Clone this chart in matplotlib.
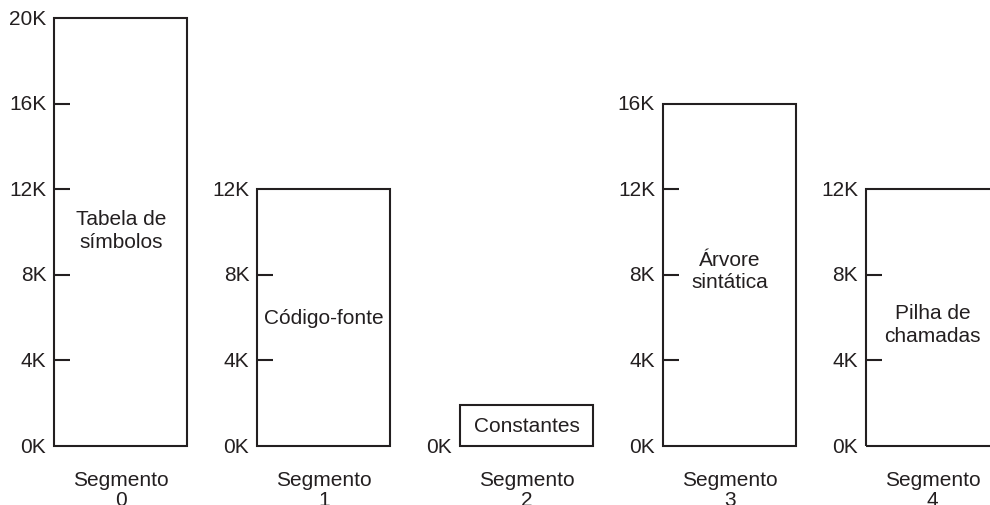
import matplotlib
matplotlib.use('Agg')
import matplotlib.pyplot as plt

# Segment sizes (in K) and the labels inside/under each box
segments = ['Segmento\n0', 'Segmento\n1', 'Segmento\n2', 'Segmento\n3', 'Segmento\n4']
sizes_k = [20, 12, 1.9, 16, 12]
contents = ['Tabela de\nsímbolos', 'Código-fonte', 'Constantes', 'Árvore\nsintática', 'Pilha de\nchamadas']
content_y = [10.1, 6.0, 0.95, 8.2, 5.7]
tick_step = 4

INK = '#231f20'
plt.rcParams['font.family'] = ['Liberation Sans', 'DejaVu Sans']


def draw_segments(ax):
    box_w = 0.655
    tick_len = 0.078
    gap = 0.04
    for i, (name, size, text, ty) in enumerate(zip(segments, sizes_k, contents, content_y)):
        ax.bar(i, size, width=box_w, bottom=0, fill=False, edgecolor=INK,
               linewidth=1.5, joinstyle='miter')
        left = i - box_w / 2
        # scale marks on the left side of each box
        v = 0
        while v <= size:
            ax.text(left - gap, v, f'{v}K', ha='right', va='center',
                    fontsize=15, color=INK)
            if 0 < v < size:
                ax.plot([left, left + tick_len], [v, v], color=INK, lw=1.5,
                        solid_capstyle='butt')
            v += tick_step
        ax.text(i, ty, text, ha='center', va='center', fontsize=15,
                color=INK, linespacing=1.25)
        ax.text(i, -1.12, name, ha='center', va='top', fontsize=15,
                color=INK, linespacing=1.1)


def main():
    fig = plt.figure(figsize=(9.9, 5.06), dpi=100)
    ax = fig.add_axes([0, 0, 1, 1])
    draw_segments(ax)
    ax.set_xlim(-0.596, 4.283)
    ax.set_ylim(-2.757, 20.888)
    ax.axis('off')
    fig.savefig('out.png', dpi=100, facecolor='white')


main()
